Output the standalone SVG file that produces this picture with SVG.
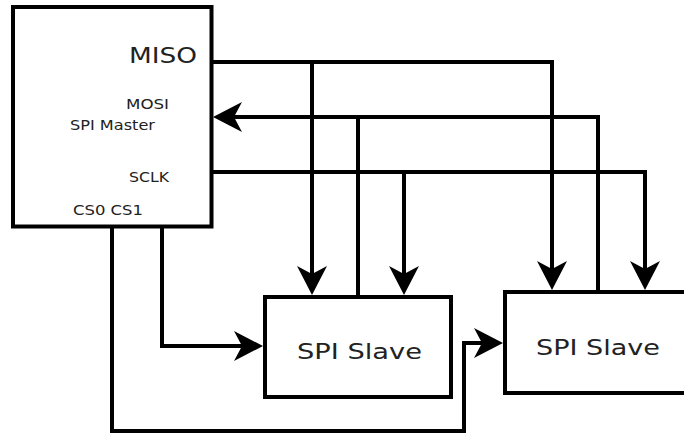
<svg xmlns="http://www.w3.org/2000/svg" width="684" height="434" viewBox="0 0 684 434">
<style>
.box{fill:#fff;stroke:#000;stroke-width:4}
.wire{fill:none;stroke:#000;stroke-width:4;stroke-linejoin:miter}
text{font-family:"DejaVu Sans","Verdana",sans-serif;fill:#222}
</style>
<defs>
<marker id="arr" markerUnits="userSpaceOnUse" orient="auto" refX="0" refY="0" markerWidth="40" markerHeight="40" viewBox="-20 -20 40 40" overflow="visible">
<path d="M10,0 L-19,-15 L-11,0 L-19,15 Z" fill="#000"/>
</marker>
</defs>
<rect width="684" height="434" fill="#fff"/>
<g id="master">
<rect class="box" x="13" y="7" width="198.5" height="219.5"/>
<text x="129" y="63" font-size="22" textLength="68" lengthAdjust="spacingAndGlyphs">MISO</text>
<text x="126" y="109" font-size="14" textLength="43" lengthAdjust="spacingAndGlyphs">MOSI</text>
<text x="70" y="130" font-size="14" textLength="85" lengthAdjust="spacingAndGlyphs">SPI Master</text>
<text x="129" y="182" font-size="14.5" textLength="40" lengthAdjust="spacingAndGlyphs">SCLK</text>
<text x="73" y="215" font-size="14.5" textLength="70" lengthAdjust="spacingAndGlyphs">CS0 CS1</text>
</g>
<g id="slave1">
<rect class="box" x="265" y="297" width="186" height="100"/>
<text x="297" y="359" font-size="22" textLength="125" lengthAdjust="spacingAndGlyphs">SPI Slave</text>
</g>
<g id="slave2">
<rect class="box" x="505" y="292" width="190" height="101"/>
<text x="536" y="355" font-size="22" textLength="124" lengthAdjust="spacingAndGlyphs">SPI Slave</text>
</g>
<g id="connectors">
<path class="wire" d="M211,62 H552 V280" marker-end="url(#arr)"/>
<path class="wire" d="M312,62 V285" marker-end="url(#arr)"/>
<path class="wire" d="M598,292 V117 H223" marker-end="url(#arr)"/>
<path class="wire" d="M358,297 V117"/>
<path class="wire" d="M211,172 H645 V280" marker-end="url(#arr)"/>
<path class="wire" d="M404,172 V285" marker-end="url(#arr)"/>
<path class="wire" d="M162,226 V346 H253" marker-end="url(#arr)"/>
<path class="wire" d="M112,226 V431 H464 V343 H493" marker-end="url(#arr)"/>
</g>
</svg>
